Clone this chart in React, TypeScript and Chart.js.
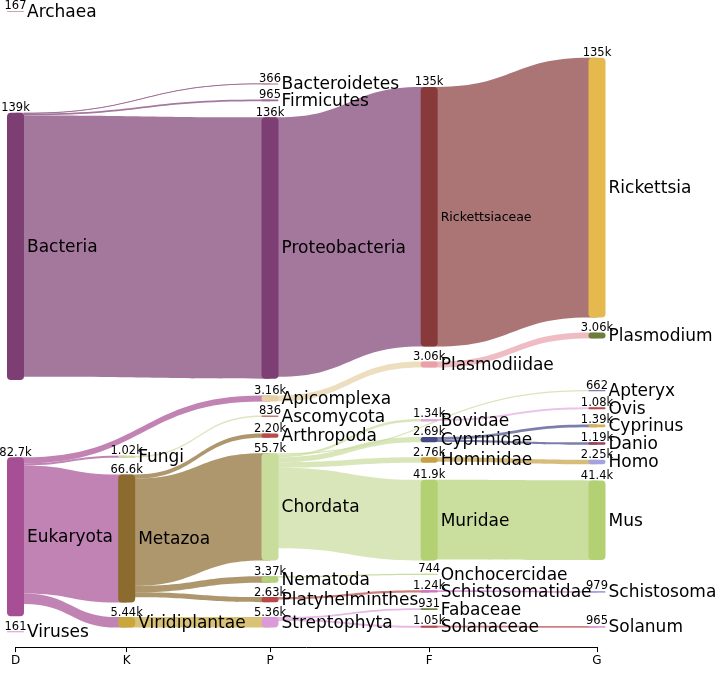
import React, { useEffect, useRef } from 'react';
import { Chart, registerables } from 'chart.js';

Chart.register(...registerables);

// ---- data ----
const ranks = ['D', 'K', 'P', 'F', 'G'];
const rankPos = [0, 0.1912, 0.4377, 0.7114, 1];

const nodeNames = [
  'Archaea', 'Bacteria', 'Eukaryota', 'Viruses',
  'Fungi', 'Metazoa', 'Viridiplantae',
  'Bacteroidetes', 'Firmicutes', 'Proteobacteria', 'Apicomplexa', 'Ascomycota', 'Arthropoda', 'Chordata', 'Nematoda', 'Platyhelminthes', 'Streptophyta',
  'Rickettsiaceae', 'Plasmodiidae', 'Bovidae', 'Cyprinidae', 'Hominidae', 'Muridae', 'Onchocercidae', 'Schistosomatidae', 'Fabaceae', 'Solanaceae',
  'Rickettsia', 'Plasmodium', 'Apteryx', 'Ovis', 'Cyprinus', 'Danio', 'Homo', 'Mus', 'Schistosoma', 'Solanum',
];
const nodeRank = [
  0, 0, 0, 0,
  1, 1, 1,
  2, 2, 2, 2, 2, 2, 2, 2, 2, 2,
  3, 3, 3, 3, 3, 3, 3, 3, 3, 3,
  4, 4, 4, 4, 4, 4, 4, 4, 4, 4,
];
const nodeCounts = [
  167, 139000, 82700, 161,
  1020, 66600, 5440,
  366, 965, 136000, 3160, 836, 2200, 55700, 3370, 2630, 5360,
  135000, 3060, 1340, 2690, 2760, 41900, 744, 1240, 931, 1050,
  135000, 3060, 662, 1080, 1390, 1190, 2250, 41400, 979, 965,
];

const linkSource = [
  'Bacteria', 'Bacteria', 'Bacteria',
  'Eukaryota', 'Eukaryota', 'Eukaryota', 'Eukaryota',
  'Fungi', 'Metazoa', 'Metazoa', 'Metazoa', 'Metazoa', 'Viridiplantae',
  'Proteobacteria', 'Apicomplexa', 'Chordata', 'Chordata', 'Chordata', 'Chordata', 'Chordata',
  'Nematoda', 'Platyhelminthes', 'Streptophyta', 'Streptophyta',
  'Rickettsiaceae', 'Plasmodiidae', 'Bovidae', 'Cyprinidae', 'Cyprinidae', 'Hominidae', 'Muridae',
  'Schistosomatidae', 'Solanaceae',
];
const linkTarget = [
  'Bacteroidetes', 'Firmicutes', 'Proteobacteria',
  'Apicomplexa', 'Fungi', 'Metazoa', 'Viridiplantae',
  'Ascomycota', 'Arthropoda', 'Chordata', 'Nematoda', 'Platyhelminthes', 'Streptophyta',
  'Rickettsiaceae', 'Plasmodiidae', 'Apteryx', 'Bovidae', 'Cyprinidae', 'Hominidae', 'Muridae',
  'Onchocercidae', 'Schistosomatidae', 'Fabaceae', 'Solanaceae',
  'Rickettsia', 'Plasmodium', 'Ovis', 'Cyprinus', 'Danio', 'Homo', 'Mus',
  'Schistosoma', 'Solanum',
];
const linkCounts = [
  366, 965, 136000,
  3160, 1020, 66600, 5440,
  836, 2200, 55700, 3370, 2630, 5360,
  135000, 3060, 662, 1340, 2690, 2760, 41900,
  744, 1240, 931, 1050,
  135000, 3060, 1080, 1390, 1190, 2250, 41400,
  979, 965,
];

// ---- layout (node top offsets along the value axis, like plotly's node.y) ----
const nodeTop = [
  5700, 58700, 237900, 328300,
  237100, 246800, 321000,
  43400, 51700, 61000, 205700, 216100, 225500, 235800, 299700, 310600, 321000,
  45200, 188100, 217900, 227300, 237900, 249600, 298400, 307000, 316400, 325500,
  30100, 173000, 202900, 211800, 220800, 230100, 239200, 249900, 307400, 325600,
];
const valueAxisMax = 336600;

// ---- styles ----
const nodeColors = [
  '#c9a3c4', '#7d3f73', '#a64f94', '#c7a1c9',
  '#cbdc9f', '#8c6b2f', '#c9a73d',
  '#b5737f', '#9f6a9a', '#7d3f73', '#e6d0a4', '#cc7474', '#b84a4a', '#c8dc9c', '#b3d07a', '#b84848', '#dc9ad8',
  '#883a3a', '#e9a0aa', '#e3a9df', '#444985', '#c8a043', '#b3d073', '#c8dca0', '#d070c8', '#6f8a48', '#b84850',
  '#e6b94e', '#6b7f3a', '#8080b4', '#b84848', '#d8b050', '#9a4058', '#a3a3e3', '#b3d073', '#a3a3e3', '#d8a0d8',
];
const smallLabelNodes = ['Rickettsiaceae'];
const FONT = '"DejaVu Sans", sans-serif';

function fmt(v: number): string {
  if (v >= 1000) return (v / 1000).toPrecision(3) + 'k';
  return String(v);
}

function roundRect(ctx: CanvasRenderingContext2D, x: number, y: number, w: number, h: number, r: number) {
  const rr = Math.max(0, Math.min(r, h / 2, w / 2));
  ctx.beginPath();
  ctx.moveTo(x + rr, y);
  ctx.lineTo(x + w - rr, y);
  ctx.quadraticCurveTo(x + w, y, x + w, y + rr);
  ctx.lineTo(x + w, y + h - rr);
  ctx.quadraticCurveTo(x + w, y + h, x + w - rr, y + h);
  ctx.lineTo(x + rr, y + h);
  ctx.quadraticCurveTo(x, y + h, x, y + h - rr);
  ctx.lineTo(x, y + rr);
  ctx.quadraticCurveTo(x, y, x + rr, y);
  ctx.closePath();
}

const sankeyPlugin = {
  id: 'sankeyPlugin',
  afterDatasetsDraw(chart: any) {
    const ctx: CanvasRenderingContext2D = chart.ctx;
    const xs = chart.scales.x;
    const ys = chart.scales.y;
    const px = (i: number) => xs.getPixelForValue(rankPos[nodeRank[i]]);
    const py = (v: number) => ys.getPixelForValue(v);
    const idx = (n: string) => nodeNames.indexOf(n);
    const halfW = 8.5;

    // link stacking
    const links = linkCounts.map((v, k) => ({ s: idx(linkSource[k]), t: idx(linkTarget[k]), v, y0: 0, y1: 0 }));
    nodeNames.forEach((_, n) => {
      const outs = links.filter(l => l.s === n).sort((a, b) => nodeTop[a.t] - nodeTop[b.t]);
      let acc = nodeTop[n];
      outs.forEach(l => { l.y0 = acc; acc += l.v; });
      const ins = links.filter(l => l.t === n).sort((a, b) => nodeTop[a.s] - nodeTop[b.s]);
      acc = nodeTop[n];
      ins.forEach(l => { l.y1 = acc; acc += l.v; });
    });

    ctx.save();
    // links
    links.forEach(l => {
      const xa = px(l.s), xb = px(l.t);
      const x0 = xa + halfW, x1 = xb - halfW;
      const xm = (x0 + x1) / 2;
      const a0 = py(l.y0), a1 = py(l.y0 + l.v);
      const b0 = py(l.y1), b1 = py(l.y1 + l.v);
      ctx.beginPath();
      ctx.moveTo(xa, a0);
      ctx.lineTo(x0, a0);
      ctx.bezierCurveTo(xm, a0, xm, b0, x1, b0);
      ctx.lineTo(xb, b0);
      ctx.lineTo(xb, b1);
      ctx.lineTo(x1, b1);
      ctx.bezierCurveTo(xm, b1, xm, a1, x0, a1);
      ctx.lineTo(xa, a1);
      ctx.closePath();
      ctx.globalAlpha = 0.7;
      ctx.fillStyle = nodeColors[l.s];
      ctx.fill();
      if (a1 - a0 < 1) {
        ctx.globalAlpha = 0.55;
        ctx.strokeStyle = nodeColors[l.s];
        ctx.lineWidth = 0.8;
        ctx.beginPath();
        const am = (a0 + a1) / 2, bm = (b0 + b1) / 2;
        ctx.moveTo(x0, am);
        ctx.bezierCurveTo(xm, am, xm, bm, x1, bm);
        ctx.stroke();
      }
    });
    ctx.globalAlpha = 1;

    // nodes
    nodeNames.forEach((_, n) => {
      const x = px(n) - halfW;
      const y0 = py(nodeTop[n]);
      const h = Math.max(py(nodeTop[n] + nodeCounts[n]) - y0, 1);
      ctx.fillStyle = nodeColors[n];
      roundRect(ctx, x, y0, halfW * 2, h, 4);
      ctx.fill();
    });

    // labels
    ctx.fillStyle = '#000';
    nodeNames.forEach((name, n) => {
      const xc = px(n);
      const y0 = py(nodeTop[n]);
      const y1 = py(nodeTop[n] + nodeCounts[n]);
      ctx.font = `11.5px ${FONT}`;
      ctx.textAlign = 'center';
      ctx.textBaseline = 'alphabetic';
      ctx.fillText(fmt(nodeCounts[n]), xc, y0 - 1.5);
      const small = smallLabelNodes.includes(name);
      ctx.font = `${small ? 12.5 : 17}px ${FONT}`;
      ctx.textAlign = 'left';
      ctx.textBaseline = 'middle';
      ctx.fillText(name, xc + halfW + 3, (y0 + y1) / 2 + 1);
    });
    ctx.restore();
  },
};

export default function App() {
  const ref = useRef<HTMLCanvasElement | null>(null);
  useEffect(() => {
    if (!ref.current) return;
    const chart = new Chart(ref.current, {
      type: 'scatter',
      data: { datasets: [{ data: [] }] },
      options: {
        animation: false,
        responsive: false,
        maintainAspectRatio: false,
        layout: { padding: { left: 15.5, right: 119, top: 0, bottom: 16.5 } },
        plugins: { legend: { display: false }, tooltip: { enabled: false } },
        scales: {
          x: {
            type: 'linear',
            min: 0,
            max: 1,
            position: 'bottom',
            afterBuildTicks: (axis: any) => { axis.ticks = rankPos.map(v => ({ value: v })); },
            ticks: {
              autoSkip: false,
              maxRotation: 0,
              padding: 2,
              color: '#000',
              font: { family: FONT, size: 12 },
              callback: (v: any) => ranks[rankPos.indexOf(Number(v))] ?? '',
            },
            grid: { drawOnChartArea: false, drawTicks: true, tickLength: 5, color: '#000', lineWidth: 1 },
            border: { display: true, color: '#000', width: 1 },
          },
          y: {
            type: 'linear',
            reverse: true,
            min: 0,
            max: valueAxisMax,
            display: false,
          },
        },
      },
      plugins: [sankeyPlugin],
    } as any);
    return () => chart.destroy();
  }, []);
  return (
    <div style={{ position: 'fixed', left: 0, top: 0, width: 716, height: 687, background: '#fff' }}>
      <canvas ref={ref} width={716} height={687} />
    </div>
  );
}
